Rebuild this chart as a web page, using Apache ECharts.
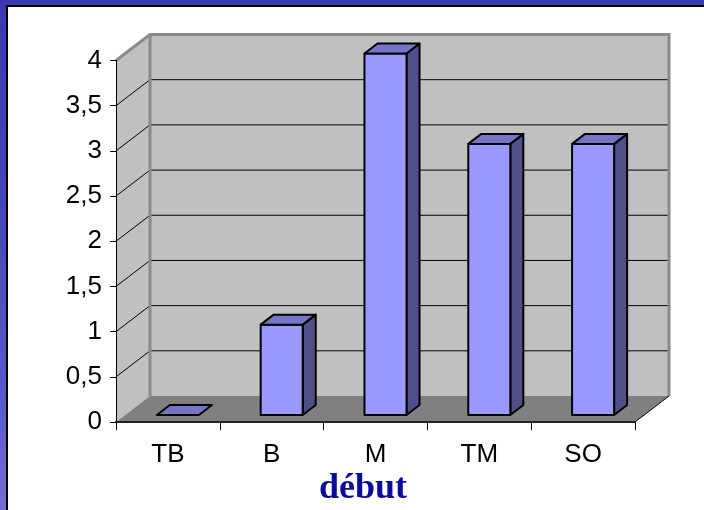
<!DOCTYPE html>
<html>
<head>
<meta charset="utf-8">
<script src="https://cdn.jsdelivr.net/npm/echarts@6/dist/echarts.min.js"></script>
<style>
  html, body { margin: 0; padding: 0; width: 704px; height: 510px; overflow: hidden;
    background: linear-gradient(180deg, #3a3ab0 0%, #4646ba 40%, #5858c6 75%, #7070d2 100%); }
  #chart { position: absolute; left: 0; top: 0; width: 704px; height: 510px; }
</style>
</head>
<body>
<div id="chart"></div>
<script>
// Categories and counts
const categories = ['TB', 'B', 'M', 'TM', 'SO'];
const values = [0, 1, 4, 3, 3];
// Value-axis labels (French decimal comma)
const yTickLabels = ['0', '0,5', '1', '1,5', '2', '2,5', '3', '3,5', '4'];
const axisTitle = 'début';

// Perspective offsets (px) for the pseudo-3D box and the columns
const WALL_D = [34, -26];
const BAR_FRONT = [10, -7];
const BAR_D = [13, -10];

const chart = echarts.init(document.getElementById('chart'), null, { renderer: 'canvas' });

function renderWalls(params, api) {
  const cs = params.coordSys;
  const L = cs.x, R = cs.x + cs.width;
  const y0 = api.coord([0, 0])[1];
  const yTop = api.coord([0, 4])[1];
  const dx = WALL_D[0], dy = WALL_D[1];
  const children = [];
  // side wall
  children.push({ type: 'polygon', shape: { points: [[L, yTop], [L + dx, yTop + dy], [L + dx, y0 + dy], [L, y0]] },
    style: { fill: '#c0c0c0' } });
  // back wall
  children.push({ type: 'rect', shape: { x: L + dx, y: yTop + dy, width: R - L, height: y0 - yTop },
    style: { fill: '#c0c0c0' } });
  // floor
  children.push({ type: 'polygon', shape: { points: [[L, y0], [L + dx, y0 + dy], [R + dx, y0 + dy], [R, y0]] },
    style: { fill: '#808080' } });
  // gridlines on side and back walls
  for (let v = 0.5; v < 4; v += 0.5) {
    const y = api.coord([0, v])[1];
    children.push({ type: 'polyline', shape: { points: [[L, y], [L + dx, y + dy], [R + dx, y + dy]] },
      style: { stroke: '#000', lineWidth: 1, fill: null } });
  }
  // box edges
  children.push({ type: 'polyline', shape: { points: [[L, yTop], [L + dx, yTop + dy], [R + dx, yTop + dy], [R + dx, y0 + dy]] },
    style: { stroke: '#8a8a8a', lineWidth: 3, fill: null, lineJoin: 'miter' } });
  children.push({ type: 'line', shape: { x1: L + dx, y1: yTop + dy, x2: L + dx, y2: y0 + dy },
    style: { stroke: '#8a8a8a', lineWidth: 3 } });
  children.push({ type: 'line', shape: { x1: R + dx, y1: y0 + dy, x2: R, y2: y0 },
    style: { stroke: '#000', lineWidth: 1 } });
  return { type: 'group', children: children };
}

function renderBar(params, api) {
  const i = api.value(0), v = api.value(1);
  const base = api.coord([i, 0]);
  const top = api.coord([i, v]);
  const w = api.size([1, 0])[0] * 0.405;
  const xl = base[0] - w / 2 + BAR_FRONT[0];
  const xr = xl + w;
  const yb = base[1] + BAR_FRONT[1];
  const yt = top[1] + BAR_FRONT[1];
  const dx = BAR_D[0], dy = BAR_D[1];
  const st = { stroke: '#000', lineWidth: 2, lineJoin: 'round' };
  const children = [];
  if (yb - yt > 0.5) {
    children.push({ type: 'polygon', shape: { points: [[xr, yt], [xr + dx, yt + dy], [xr + dx, yb + dy], [xr, yb]] },
      style: Object.assign({ fill: '#505088' }, st) });
    children.push({ type: 'rect', shape: { x: xl, y: yt, width: w, height: yb - yt },
      style: Object.assign({ fill: '#9999ff' }, st) });
  }
  children.push({ type: 'polygon', shape: { points: [[xl, yt], [xl + dx, yt + dy], [xr + dx, yt + dy], [xr, yt]] },
    style: Object.assign({ fill: '#7575c8' }, st) });
  return { type: 'group', children: children };
}

const option = {
  backgroundColor: 'transparent',
  animation: false,
  graphic: [
    { type: 'rect', z: 0, shape: { x: 8, y: 7, width: 696, height: 503 }, style: { fill: '#ffffff' } },
    { type: 'polyline', z: 0, shape: { points: [[7, 510], [7, 6], [704, 6]] }, style: { stroke: '#000', lineWidth: 2, fill: null } },
    { type: 'text', z: 5, style: { text: axisTitle, x: 363, y: 489, textAlign: 'center', textVerticalAlign: 'middle',
      font: 'bold 36px "Liberation Serif", "Times New Roman", serif', fill: '#0a0aa0' } }
  ],
  grid: { left: 116, right: 69, top: 60.5, bottom: 88, containLabel: false },
  xAxis: {
    type: 'category', data: categories, z: 6,
    axisLine: { lineStyle: { color: '#222', width: 2 } },
    axisTick: { show: true, length: 8, lineStyle: { color: '#000', width: 1 } },
    axisLabel: { color: '#000', fontSize: 26, fontFamily: '"Liberation Sans", Arial, sans-serif', margin: 20 },
    splitLine: { show: false }
  },
  yAxis: {
    type: 'value', min: 0, max: 4, interval: 0.5, z: 6,
    axisLine: { show: true, lineStyle: { color: '#000', width: 1 } },
    axisTick: { show: true, length: 6, lineStyle: { color: '#000', width: 1 } },
    axisLabel: { color: '#000', fontSize: 26, fontFamily: '"Liberation Sans", Arial, sans-serif', margin: 14,
      formatter: function (val) { return yTickLabels[Math.round(val / 0.5)]; } },
    splitLine: { show: false }
  },
  series: [
    { type: 'custom', name: 'walls', z: 1, silent: true, renderItem: renderWalls, data: [[0, 0]], clip: false },
    { type: 'custom', name: 'début', z: 2, renderItem: renderBar, data: values.map((v, i) => [i, v]), clip: false }
  ]
};
chart.setOption(option);
</script>
</body>
</html>
